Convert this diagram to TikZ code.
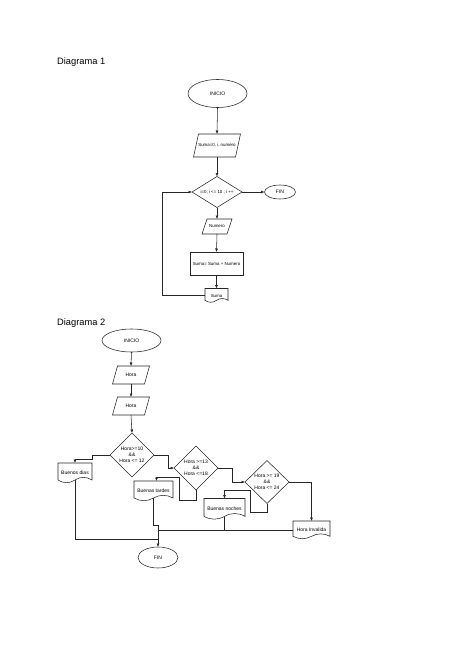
\documentclass[tikz,border=0pt]{standalone}
\usepackage{fontspec}
\setmainfont{Liberation Sans}
\usetikzlibrary{shapes.geometric,arrows.meta,calc}
\tikzset{
  shp/.style={draw=black!85, line width=0.55pt},
  conn/.style={draw=black!85, line width=0.55pt},
  arr/.style={conn, -{Latex[length=3.5pt,width=3pt]}},
  box/.style={rectangle, inner sep=0pt, outer sep=0pt, align=center, font=\fontsize{5}{6}\selectfont},
  oval/.style={ellipse, shp, inner sep=0pt, outer sep=0pt, font=\fontsize{5}{6}\selectfont},
  rectbox/.style={box, shp},
  small/.style={font=\fontsize{4.4}{5.3}\selectfont},
  title/.style={anchor=west, inner sep=0pt, font=\fontsize{9.3}{11}\selectfont},
}
% parallelogram: name, cx, cy, w, h, text
\newcommand{\mypara}[6]{%
  \node[box, minimum width=#4pt, minimum height=#5pt] (#1) at (#2,#3) {#6};
  \draw[shp, shift={(#1.north west)}] (5,0) -- (#4,0) -- (#4-5,#5) -- (0,#5) -- cycle;}
% document: name, cx, cy, w, h, text
\newcommand{\mydoc}[6]{%
  \node[box, minimum width=#4pt, minimum height=#5pt] (#1) at (#2,#3) {#6};
  \draw[shp, shift={(#1.north west)}] (0,0) -- (#4,0) -- (#4,0.85*#5)
    .. controls (0.8333*#4,0.67*#5) and (0.6667*#4,0.67*#5) .. (0.5*#4,0.85*#5)
    .. controls (0.3333*#4,1.03*#5) and (0.1667*#4,1.03*#5) .. (0,0.85*#5) -- cycle;}
% decision: name, cx, cy, w, h, text
\newcommand{\mydia}[6]{%
  \node[box, minimum width=#4pt, minimum height=#5pt] (#1) at (#2,#3) {#6};
  \draw[shp] (#1.north) -- (#1.east) -- (#1.south) -- (#1.west) -- cycle;}

\begin{document}
\begin{tikzpicture}[x=1pt,y=-1pt]
\useasboundingbox (0,0) rectangle (474,669);

% ---------------- Diagrama 1 ----------------
\node[title] (t1) at (57,62) {Diagrama 1};
\node[oval, minimum width=59pt, minimum height=28pt] (ini1) at (217.5,93.5) {INICIO};
\mypara{p1}{217}{145.5}{47}{23}{\fontsize{4.4}{5.3}\selectfont Suma=0, i, numero}
\mydia{d1}{217}{192}{50}{31}{\fontsize{4.4}{5.3}\selectfont i=0; i <= 10 ; i ++}
\node[oval, minimum width=31pt, minimum height=14pt] (fin1) at (280,192) {FIN};
\mypara{num}{217}{226.5}{30}{15}{\fontsize{4.4}{5.3}\selectfont Numero}
\node[rectbox, small, minimum width=53pt, minimum height=23pt] (calc) at (216.5,263.5) {Suma= Suma + Numero};
\mydoc{suma}{216.5}{295.5}{23}{14}{\fontsize{4.4}{5.3}\selectfont Suma}

\draw[arr] (ini1.south) -- (p1.north);
\draw[arr] (p1.south) -- (d1.north);
\draw[arr] (d1.east) -- (fin1.west);
\draw[arr] (d1.south) -- (num.north);
\draw[arr] (num.south) -- (calc.north);
\draw[arr] (calc.south) -- (suma.north);
\draw[arr] (suma.west) -- ++(-43,0) |- (d1.west);

% ---------------- Diagrama 2 ----------------
\node[title] (t2) at (57,323) {Diagrama 2};
\node[oval, minimum width=59pt, minimum height=23pt] (ini2) at (131.5,340.5) {INICIO};
\mypara{h1}{131}{375}{37}{18}{Hora}
\mypara{h2}{131}{406}{37}{18}{Hora}
\mydia{da}{132}{455}{44}{44}{Hora>=10\\\&\&\\Hora <= 12}
\mydia{db}{196}{468}{44}{44}{Hora >=13\\\&\&\\Hora <=18}
\mydia{dc}{267}{482}{44}{43}{Hora >= 19\\\&\&\\Hora <= 24}
\mydoc{bd}{75}{473}{34}{20}{Buenos dias}
\mydoc{bt}{153.5}{491}{39}{20}{Buenas tardes}
\mydoc{bn}{224.5}{509}{41}{21}{Buenas noches}
\mydoc{hi}{311.5}{530}{37}{18}{Hora Invalida}
\node[oval, minimum width=40pt, minimum height=21pt] (fin2) at (158,557.5) {FIN};

\draw[arr] (ini2.south) -- (h1.north);
\draw[arr] (h1.south) -- (h2.north);
\draw[arr] (h2.south) -- (da.north);
\draw[arr] (da.west) -- ++(-18,0) -- ++(0,4) -| (bd.north);
\draw[arr] (da.east) -- ++(14,0) |- (db.west);
\draw[arr] (db.south) -- ++(0,10) -- ++(-17,0) -- ++(0,-23) -| ([xshift=3pt]bt.north);
\draw[arr] (db.east) -- ++(14,0) |- (dc.west);
\draw[arr] (dc.south) -- ++(0,9) -- ++(-17,0) -- ++(0,-22) -| (bn.north);
\draw[arr] (dc.east) -| (hi.north);

\draw[arr] ([yshift=3pt]bd.south) |- ([yshift=8pt]fin2.north) -- (fin2.north);
\draw[conn] ([yshift=3pt]bt.south) |- ([yshift=22pt]fin2.north) -- ([yshift=8pt]fin2.north);
\draw[conn] (hi.west) -- (hi.west -| fin2.north);
\draw[conn] ([yshift=3pt]bn.south) -- (bn.south |- hi.west);
\end{tikzpicture}
\end{document}
